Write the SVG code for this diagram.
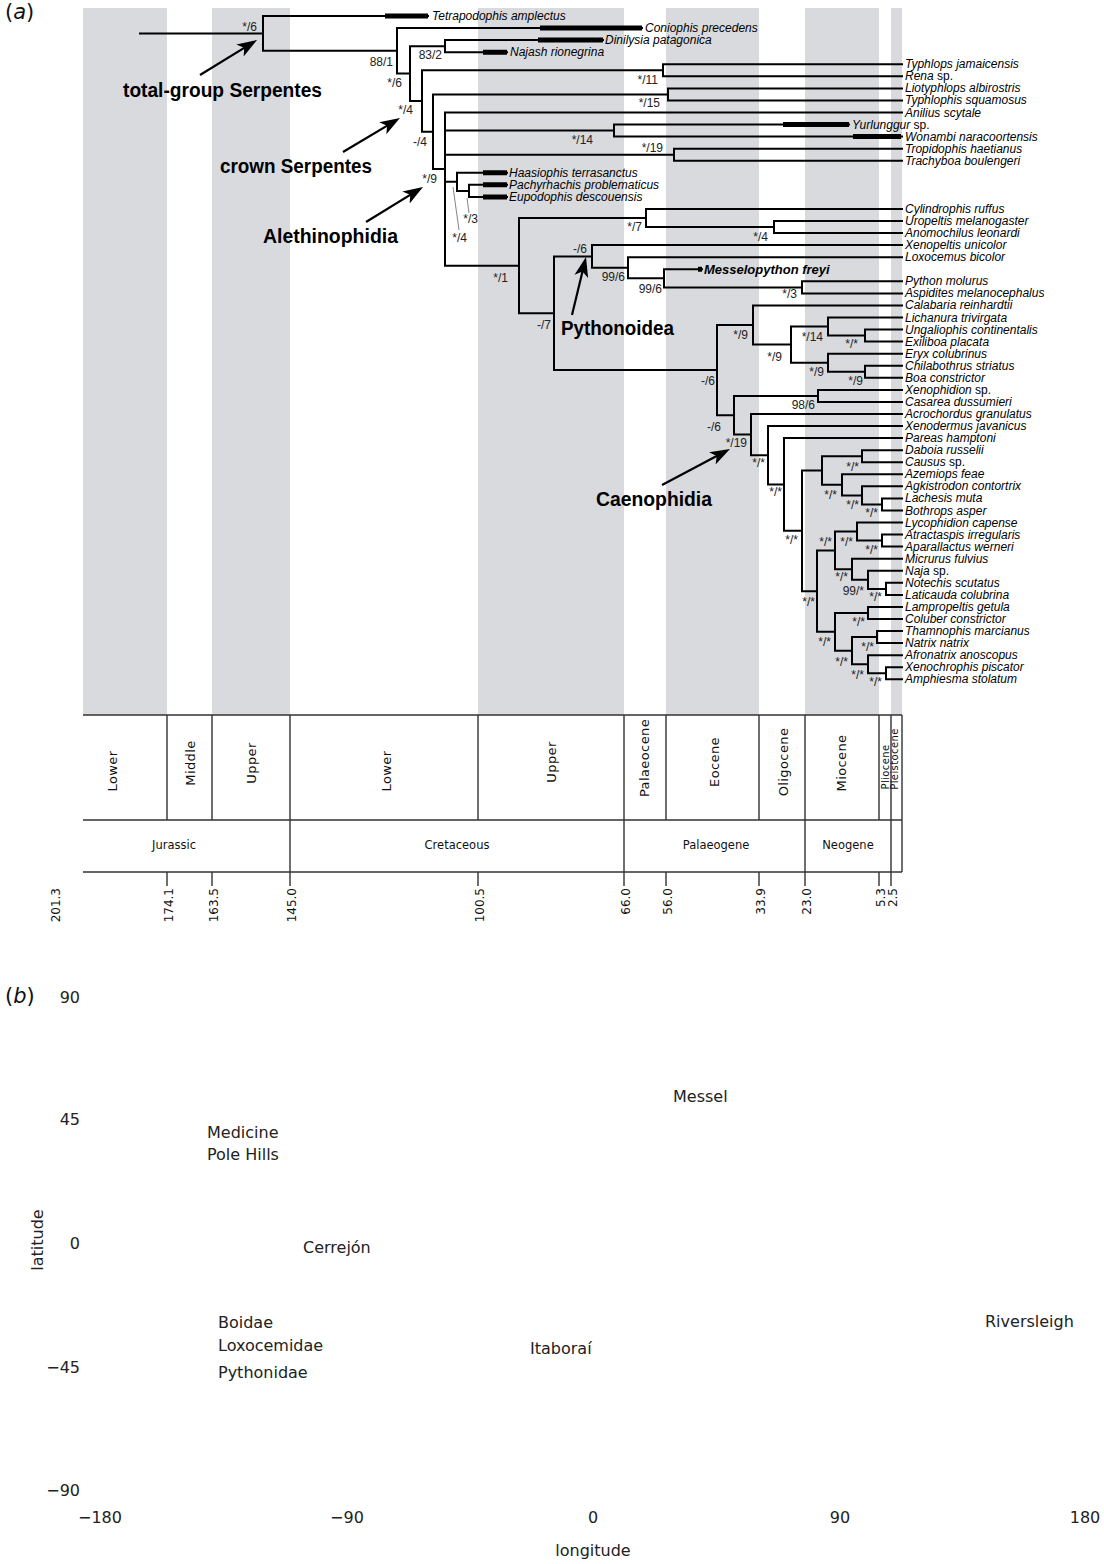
<svg xmlns="http://www.w3.org/2000/svg" width="1104" height="1564" viewBox="0 0 1104 1564">
<style>
.band{fill:#d9dadd}
.br{fill:none;stroke:#000;stroke-width:2;stroke-linecap:square}
.fb{fill:none;stroke:#000;stroke-width:5}
.lead{fill:none;stroke:#777;stroke-width:0.9}
.arw{fill:none;stroke:#000;stroke-width:2.2}
.tx{font-family:"Liberation Sans",Arial,sans-serif;font-style:italic;font-size:12px;fill:#000}
.up{font-style:normal}
.bi{font-family:"Liberation Sans",Arial,sans-serif;font-style:italic;font-weight:bold;font-size:13px;fill:#000}
.sp{font-family:"Liberation Sans",Arial,sans-serif;font-size:12px;fill:#222;text-anchor:end}
.cl{font-family:"Liberation Sans",Arial,sans-serif;font-weight:bold;font-size:20px;fill:#000}
.ax{fill:none;stroke:#333;stroke-width:1.4}
.st{font-family:"DejaVu Sans",sans-serif;font-size:13px;letter-spacing:0.4px;fill:#111;text-anchor:middle}
.st2{font-family:"DejaVu Sans",sans-serif;font-size:10px;letter-spacing:0.4px;fill:#111;text-anchor:middle}
.pe{font-family:"DejaVu Sans",sans-serif;font-size:11.5px;fill:#111;text-anchor:middle}
.ag{font-family:"DejaVu Sans",sans-serif;font-size:12px;fill:#111;text-anchor:end}
.pl{font-family:"DejaVu Sans",sans-serif;font-size:16px;fill:#222}
.pn{font-family:"DejaVu Sans",sans-serif;font-size:21px;fill:#111}
</style>
<defs>
<marker id="ah" viewBox="-20 -8 20 16" refX="-6" refY="0" markerWidth="20" markerHeight="16" markerUnits="userSpaceOnUse" orient="auto">
<path d="M0,0 L-20,-7 L-15,0 L-20,7 Z" fill="#000"/>
</marker>
</defs>

<g id="bands">
<rect class="band" x="83" y="8" width="84" height="707"/>
<rect class="band" x="212" y="8" width="78" height="707"/>
<rect class="band" x="478" y="8" width="146" height="707"/>
<rect class="band" x="666" y="8" width="93" height="707"/>
<rect class="band" x="805" y="8" width="74" height="707"/>
<rect class="band" x="891" y="8" width="11" height="707"/>
</g>

<text class="pn" x="5" y="19">(<tspan font-style="italic">a</tspan>)</text>

<g id="connectors">
<path class="br" d="M140 33.4 H263"/>
<path class="br" d="M428 16 H263 V50.8 H397"/>
<path class="br" d="M642 28.1 H397 V73.6 H410"/>
<path class="br" d="M445 46.2 H410 V101 H422"/>
<path class="br" d="M603 40.1 H445 V52.2 H507"/>
<path class="br" d="M663 70.2 H422 V131.8 H433"/>
<path class="br" d="M902 64.2 H663 V76.3 H902"/>
<path class="br" d="M668 94.4 H433 V169.1 H445"/>
<path class="br" d="M902 88.4 H668 V100.4 H902"/>
<path class="br" d="M445 112.5 V265.7 M445 112.5 H902 M445 130.6 H614 M445 154.7 H674 M445 181.8 H457 M445 265.7 H519"/>
<path class="br" d="M849 124.5 H614 V136.6 H902"/>
<path class="br" d="M902 148.7 H674 V160.7 H902"/>
<path class="br" d="M507 172.8 H457 V190.9 H469"/>
<path class="br" d="M507 184.8 H469 V196.9 H507"/>
<path class="br" d="M646 218 H519 V313.3 H554"/>
<path class="br" d="M902 209 H646 V227.1 H774"/>
<path class="br" d="M902 221 H774 V233.1 H902"/>
<path class="br" d="M592 256.5 H554 V370.1 H717"/>
<path class="br" d="M902 245.1 H592 V267.8 H628"/>
<path class="br" d="M902 257.2 H628 V278.3 H664"/>
<path class="br" d="M702 269.3 H664 V287.4 H802"/>
<path class="br" d="M902 281.3 H802 V293.4 H902"/>
<path class="br" d="M753 325 H717 V415.3 H734"/>
<path class="br" d="M902 305.4 H753 V344.6 H791"/>
<path class="br" d="M828 326.5 H791 V362.7 H828"/>
<path class="br" d="M902 317.5 H828 V335.6 H865"/>
<path class="br" d="M902 329.6 H865 V341.6 H902"/>
<path class="br" d="M902 353.7 H828 V371.8 H865"/>
<path class="br" d="M902 365.7 H865 V377.8 H902"/>
<path class="br" d="M818 395.9 H734 V434.6 H751"/>
<path class="br" d="M902 389.9 H818 V401.9 H902"/>
<path class="br" d="M902 414 H751 V455.2 H768"/>
<path class="br" d="M902 426 H768 V484.5 H784"/>
<path class="br" d="M902 438.1 H784 V530.8 H802"/>
<path class="br" d="M822 470.5 H802 V591.2 H817"/>
<path class="br" d="M862 456.2 H822 V484.8 H842"/>
<path class="br" d="M902 450.2 H862 V462.2 H902"/>
<path class="br" d="M902 474.3 H842 V495.4 H862"/>
<path class="br" d="M902 486.3 H862 V504.4 H882"/>
<path class="br" d="M902 498.4 H882 V510.5 H902"/>
<path class="br" d="M835 550.5 H817 V631.8 H835"/>
<path class="br" d="M857 531.6 H835 V569.3 H852"/>
<path class="br" d="M902 522.5 H857 V540.6 H882"/>
<path class="br" d="M902 534.6 H882 V546.6 H902"/>
<path class="br" d="M902 558.7 H852 V579.8 H868"/>
<path class="br" d="M902 570.8 H868 V588.9 H886"/>
<path class="br" d="M902 582.8 H886 V594.9 H902"/>
<path class="br" d="M868 613 H835 V650.7 H852"/>
<path class="br" d="M902 606.9 H868 V619 H902"/>
<path class="br" d="M877 637.1 H852 V664.2 H868"/>
<path class="br" d="M902 631.1 H877 V643.1 H902"/>
<path class="br" d="M902 655.2 H868 V673.3 H886"/>
<path class="br" d="M902 667.2 H886 V679.3 H902"/>
<g id="fossil-ranges">
<path class="fb" d="M385 16 H428 M540 28.1 H642 M538 40.1 H603 M483 52.2 H507 M483 172.8 H507 M483 184.8 H507 M483 196.9 H507 M783 124.5 H849 M853 136.6 H901 M698 269.3 H702"/>
</g>
<path class="lead" d="M453 187 L459 230 M467 198 L469 213"/>
<g id="arrows">
<path class="arw" d="M200 75 L251.9 43.1" marker-end="url(#ah)"/>
<path class="arw" d="M343 152 L394.8 121.1" marker-end="url(#ah)"/>
<path class="arw" d="M366 222 L417.9 190.1" marker-end="url(#ah)"/>
<path class="arw" d="M572 315 L584.6 262.8" marker-end="url(#ah)"/>
<path class="arw" d="M662 485 L724.7 451.8" marker-end="url(#ah)"/>
</g>
</g>

<g id="taxa">
<g id="t-tetrapodophis"><text class="tx" x="432" y="20">Tetrapodophis amplectus</text></g>
<g id="t-coniophis"><text class="tx" x="645" y="32">Coniophis precedens</text></g>
<g id="t-dinilysia"><text class="tx" x="605" y="44">Dinilysia patagonica</text></g>
<g id="t-najash"><text class="tx" x="510" y="56">Najash rionegrina</text></g>
<g id="t-typhlops"><text class="tx" x="905" y="68.2">Typhlops jamaicensis</text></g>
<g id="t-rena"><text class="tx" x="905" y="80.3">Rena<tspan class="up"> sp.</tspan></text></g>
<g id="t-liotyphlops"><text class="tx" x="905" y="92.4">Liotyphlops albirostris</text></g>
<g id="t-typhlophis"><text class="tx" x="905" y="104.4">Typhlophis squamosus</text></g>
<g id="t-anilius"><text class="tx" x="905" y="116.5">Anilius scytale</text></g>
<g id="t-yurlunggur"><text class="tx" x="852" y="128.5">Yurlunggur<tspan class="up"> sp.</tspan></text></g>
<g id="t-wonambi"><text class="tx" x="905" y="140.6">Wonambi naracoortensis</text></g>
<g id="t-tropidophis"><text class="tx" x="905" y="152.7">Tropidophis haetianus</text></g>
<g id="t-trachyboa"><text class="tx" x="905" y="164.7">Trachyboa boulengeri</text></g>
<g id="t-haasiophis"><text class="tx" x="509" y="176.8">Haasiophis terrasanctus</text></g>
<g id="t-pachyrhachis"><text class="tx" x="509" y="188.8">Pachyrhachis problematicus</text></g>
<g id="t-eupodophis"><text class="tx" x="509" y="200.9">Eupodophis descouensis</text></g>
<g id="t-cylindrophis"><text class="tx" x="905" y="213">Cylindrophis ruffus</text></g>
<g id="t-uropeltis"><text class="tx" x="905" y="225">Uropeltis melanogaster</text></g>
<g id="t-anomochilus"><text class="tx" x="905" y="237.1">Anomochilus leonardi</text></g>
<g id="t-xenopeltis"><text class="tx" x="905" y="249.1">Xenopeltis unicolor</text></g>
<g id="t-loxocemus"><text class="tx" x="905" y="261.2">Loxocemus bicolor</text></g>
<g id="t-messelopython"><text class="bi" x="704" y="273.8">Messelopython freyi</text></g>
<g id="t-python"><text class="tx" x="905" y="285.3">Python molurus</text></g>
<g id="t-aspidites"><text class="tx" x="905" y="297.4">Aspidites melanocephalus</text></g>
<g id="t-calabaria"><text class="tx" x="905" y="309.4">Calabaria reinhardtii</text></g>
<g id="t-lichanura"><text class="tx" x="905" y="321.5">Lichanura trivirgata</text></g>
<g id="t-ungaliophis"><text class="tx" x="905" y="333.6">Ungaliophis continentalis</text></g>
<g id="t-exiliboa"><text class="tx" x="905" y="345.6">Exiliboa placata</text></g>
<g id="t-eryx"><text class="tx" x="905" y="357.7">Eryx colubrinus</text></g>
<g id="t-chilabothrus"><text class="tx" x="905" y="369.7">Chilabothrus striatus</text></g>
<g id="t-boa"><text class="tx" x="905" y="381.8">Boa constrictor</text></g>
<g id="t-xenophidion"><text class="tx" x="905" y="393.9">Xenophidion<tspan class="up"> sp.</tspan></text></g>
<g id="t-casarea"><text class="tx" x="905" y="405.9">Casarea dussumieri</text></g>
<g id="t-acrochordus"><text class="tx" x="905" y="418">Acrochordus granulatus</text></g>
<g id="t-xenodermus"><text class="tx" x="905" y="430">Xenodermus javanicus</text></g>
<g id="t-pareas"><text class="tx" x="905" y="442.1">Pareas hamptoni</text></g>
<g id="t-daboia"><text class="tx" x="905" y="454.2">Daboia russelii</text></g>
<g id="t-causus"><text class="tx" x="905" y="466.2">Causus<tspan class="up"> sp.</tspan></text></g>
<g id="t-azemiops"><text class="tx" x="905" y="478.3">Azemiops feae</text></g>
<g id="t-agkistrodon"><text class="tx" x="905" y="490.3">Agkistrodon contortrix</text></g>
<g id="t-lachesis"><text class="tx" x="905" y="502.4">Lachesis muta</text></g>
<g id="t-bothrops"><text class="tx" x="905" y="514.5">Bothrops asper</text></g>
<g id="t-lycophidion"><text class="tx" x="905" y="526.5">Lycophidion capense</text></g>
<g id="t-atractaspis"><text class="tx" x="905" y="538.6">Atractaspis irregularis</text></g>
<g id="t-aparallactus"><text class="tx" x="905" y="550.6">Aparallactus werneri</text></g>
<g id="t-micrurus"><text class="tx" x="905" y="562.7">Micrurus fulvius</text></g>
<g id="t-naja"><text class="tx" x="905" y="574.8">Naja<tspan class="up"> sp.</tspan></text></g>
<g id="t-notechis"><text class="tx" x="905" y="586.8">Notechis scutatus</text></g>
<g id="t-laticauda"><text class="tx" x="905" y="598.9">Laticauda colubrina</text></g>
<g id="t-lampropeltis"><text class="tx" x="905" y="610.9">Lampropeltis getula</text></g>
<g id="t-coluber"><text class="tx" x="905" y="623">Coluber constrictor</text></g>
<g id="t-thamnophis"><text class="tx" x="905" y="635.1">Thamnophis marcianus</text></g>
<g id="t-natrix"><text class="tx" x="905" y="647.1">Natrix natrix</text></g>
<g id="t-afronatrix"><text class="tx" x="905" y="659.2">Afronatrix anoscopus</text></g>
<g id="t-xenochrophis"><text class="tx" x="905" y="671.2">Xenochrophis piscator</text></g>
<g id="t-amphiesma"><text class="tx" x="905" y="683.3">Amphiesma stolatum</text></g>
</g>

<g id="clades">
<g id="c-total"><text class="cl" x="123" y="97" textLength="199" lengthAdjust="spacingAndGlyphs">total-group Serpentes</text></g>
<g id="c-crown"><text class="cl" x="220" y="173" textLength="152" lengthAdjust="spacingAndGlyphs">crown Serpentes</text></g>
<g id="c-aleth"><text class="cl" x="263" y="243" textLength="135" lengthAdjust="spacingAndGlyphs">Alethinophidia</text></g>
<g id="c-python"><text class="cl" x="561" y="335" textLength="113" lengthAdjust="spacingAndGlyphs">Pythonoidea</text></g>
<g id="c-caeno"><text class="cl" x="596" y="506" textLength="116" lengthAdjust="spacingAndGlyphs">Caenophidia</text></g>
</g>

<g id="support">
<text class="sp" x="257" y="31">*/6</text>
<text class="sp" x="393" y="66">88/1</text>
<text class="sp" x="442" y="59">83/2</text>
<text class="sp" x="402" y="87">*/6</text>
<text class="sp" x="413" y="114">*/4</text>
<text class="sp" x="427" y="146">-/4</text>
<text class="sp" x="437" y="183">*/9</text>
<text class="sp" x="658" y="84">*/11</text>
<text class="sp" x="660" y="107">*/15</text>
<text class="sp" x="593" y="144">*/14</text>
<text class="sp" x="663" y="152">*/19</text>
<text class="sp" x="478" y="223">*/3</text>
<text class="sp" x="467" y="242">*/4</text>
<text class="sp" x="508" y="282">*/1</text>
<text class="sp" x="642" y="231">*/7</text>
<text class="sp" x="768" y="241">*/4</text>
<text class="sp" x="587" y="253">-/6</text>
<text class="sp" x="625" y="281">99/6</text>
<text class="sp" x="662" y="293">99/6</text>
<text class="sp" x="797" y="298">*/3</text>
<text class="sp" x="551" y="329">-/7</text>
<text class="sp" x="715" y="385">-/6</text>
<text class="sp" x="748" y="339">*/9</text>
<text class="sp" x="782" y="361">*/9</text>
<text class="sp" x="823" y="341">*/14</text>
<text class="sp" x="858" y="348">*/*</text>
<text class="sp" x="824" y="376">*/9</text>
<text class="sp" x="863" y="385">*/9</text>
<text class="sp" x="815" y="409">98/6</text>
<text class="sp" x="721" y="431">-/6</text>
<text class="sp" x="747" y="447">*/19</text>
<text class="sp" x="765" y="467">*/*</text>
<text class="sp" x="782" y="496">*/*</text>
<text class="sp" x="798" y="544">*/*</text>
<text class="sp" x="859" y="471">*/*</text>
<text class="sp" x="837" y="499">*/*</text>
<text class="sp" x="859" y="509">*/*</text>
<text class="sp" x="878" y="517">*/*</text>
<text class="sp" x="815" y="606">*/*</text>
<text class="sp" x="832" y="546">*/*</text>
<text class="sp" x="853" y="546">*/*</text>
<text class="sp" x="878" y="554">*/*</text>
<text class="sp" x="848" y="581">*/*</text>
<text class="sp" x="864" y="595">99/*</text>
<text class="sp" x="882" y="601">*/*</text>
<text class="sp" x="865" y="626">*/*</text>
<text class="sp" x="831" y="646">*/*</text>
<text class="sp" x="874" y="651">*/*</text>
<text class="sp" x="848" y="666">*/*</text>
<text class="sp" x="864" y="679">*/*</text>
<text class="sp" x="882" y="686">*/*</text>
</g>

<g id="timescale">
<path class="ax" d="M83 715 H902 M83 820 H902 M83 872 H902 M902 715 V872"/>
<path class="ax" d="M167 715 V820 M212 715 V820 M290 715 V872 M478 715 V820 M624 715 V872 M666 715 V820 M759 715 V820 M805 715 V872 M879 715 V820 M891 715 V872"/>
<path class="ax" d="M167 872 V886 M212 872 V886 M290 872 V886 M478 872 V886 M624 872 V886 M666 872 V886 M759 872 V886 M805 872 V886 M879 872 V886 M891 872 V886"/>
<text class="st" transform="translate(116.5 771) rotate(-90)">Lower</text>
<text class="st" transform="translate(194.5 763) rotate(-90)">Middle</text>
<text class="st" transform="translate(255.5 763) rotate(-90)">Upper</text>
<text class="st" transform="translate(390.5 771) rotate(-90)">Lower</text>
<text class="st" transform="translate(555.5 762) rotate(-90)">Upper</text>
<text class="st" transform="translate(648.5 758) rotate(-90)">Palaeocene</text>
<text class="st" transform="translate(718.5 762) rotate(-90)">Eocene</text>
<text class="st" transform="translate(787.5 762) rotate(-90)">Oligocene</text>
<text class="st" transform="translate(845.5 763) rotate(-90)">Miocene</text>
<text class="st2" transform="translate(888.5 767) rotate(-90)">Pliocene</text>
<text class="st2" transform="translate(897.5 759) rotate(-90)">Pleistocene</text>
<text class="pe" x="174" y="849">Jurassic</text>
<text class="pe" x="457" y="849">Cretaceous</text>
<text class="pe" x="716" y="849">Palaeogene</text>
<text class="pe" x="848" y="849">Neogene</text>
<text class="ag" transform="translate(59.5 888) rotate(-90)">201.3</text>
<text class="ag" transform="translate(173 888) rotate(-90)">174.1</text>
<text class="ag" transform="translate(218 888) rotate(-90)">163.5</text>
<text class="ag" transform="translate(296 888) rotate(-90)">145.0</text>
<text class="ag" transform="translate(484 888) rotate(-90)">100.5</text>
<text class="ag" transform="translate(630 888) rotate(-90)">66.0</text>
<text class="ag" transform="translate(672 888) rotate(-90)">56.0</text>
<text class="ag" transform="translate(765 888) rotate(-90)">33.9</text>
<text class="ag" transform="translate(811 888) rotate(-90)">23.0</text>
<text class="ag" transform="translate(885 888) rotate(-90)">5.3</text>
<text class="ag" transform="translate(897 888) rotate(-90)">2.5</text>
</g>

<g id="map">
<text class="pn" x="5" y="1003">(<tspan font-style="italic">b</tspan>)</text>
<g id="lat-ticks" class="pl" text-anchor="end">
<text x="80" y="1003">90</text>
<text x="80" y="1125">45</text>
<text x="80" y="1249">0</text>
<text x="80" y="1373">−45</text>
<text x="80" y="1496">−90</text>
</g>
<g id="lon-ticks" class="pl" text-anchor="middle">
<text x="100" y="1523">−180</text>
<text x="347" y="1523">−90</text>
<text x="593" y="1523">0</text>
<text x="840" y="1523">90</text>
<text x="1085" y="1523">180</text>
</g>
<text class="pl" x="593" y="1556" text-anchor="middle">longitude</text>
<text class="pl" transform="translate(43 1240) rotate(-90)" text-anchor="middle">latitude</text>
<g id="site-messel"><text class="pl" x="673" y="1102">Messel</text></g>
<g id="site-medicine"><text class="pl" x="207" y="1138">Medicine</text><text class="pl" x="207" y="1160">Pole Hills</text></g>
<g id="site-cerrejon"><text class="pl" x="303" y="1253">Cerrejón</text></g>
<g id="site-groups"><text class="pl" x="218" y="1328">Boidae</text><text class="pl" x="218" y="1351">Loxocemidae</text><text class="pl" x="218" y="1378">Pythonidae</text></g>
<g id="site-itaborai"><text class="pl" x="530" y="1354">Itaboraí</text></g>
<g id="site-riversleigh"><text class="pl" x="985" y="1327">Riversleigh</text></g>
</g>
</svg>
